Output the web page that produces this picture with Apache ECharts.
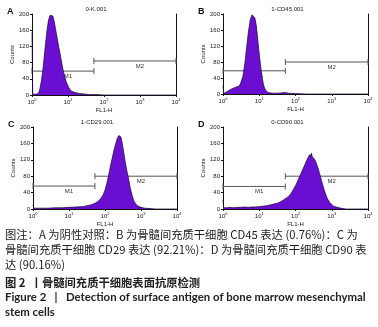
<!DOCTYPE html>
<html>
<head>
<meta charset="utf-8">
<script src="https://cdn.jsdelivr.net/npm/echarts@6/dist/echarts.min.js"></script>
<style>
  html, body { margin: 0; padding: 0; background: #fff; }
  #chart { width: 378px; height: 327px; }
</style>
</head>
<body>
<div id="chart"></div>
<script>
// panel labels
const panelLetters = ['A', 'B', 'C', 'D'];
const panelTitles = ['0-K.001', '1-CD45.001', '1-CD29.001', '0-CD90.001'];

// x in decades (10^n), y in counts
const xDecades = [0, 1, 2, 3, 4];
const yTicks = [0, 40, 80, 120, 160, 200];

// A: negative control
const aExp =    [0, 0.02, 0.10, 0.18, 0.22, 0.26, 0.30, 0.34, 0.38, 0.42, 0.46, 0.50, 0.54, 0.58, 0.62, 0.66, 0.70, 0.74, 0.78, 0.82, 0.86, 0.90, 0.95, 1.00, 1.05, 1.10, 1.20, 1.30, 1.40, 1.50, 1.60, 1.80, 2.00, 4.00];
const aCounts = [155, 2,   2,    4,    15,   35,   60,   95,   130,  162,  185,  197,  200,  195,  180,  160,  140,  120,  102,  82,   63,   48,   33,   22,   14,   9,    6,    4,    3,    2,    1,    1,    0,    0];

// B: CD45
const bExp =    [0, 0.02, 0.08, 0.15, 0.22, 0.30, 0.38, 0.45, 0.50, 0.55, 0.60, 0.65, 0.70, 0.75, 0.80, 0.84, 0.88, 0.92, 0.96, 1.00, 1.04, 1.08, 1.12, 1.17, 1.24, 1.35, 1.50, 1.65, 1.72, 1.80, 2.00, 2.30, 4.00];
const bCounts = [22, 2,    4,    8,    12,   15,   18,   20,   30,   45,   75,   115,  155,  185,  198,  200,  190,  170,  135,  100,  68,   42,   22,   10,   4,    2,    2,    3,    4,    2,    1,    0,    0];

// C: CD29
const cExp =    [0, 0.02, 0.20, 0.40, 0.60, 0.80, 1.00, 1.20, 1.40, 1.50, 1.60, 1.70, 1.80, 1.88, 1.95, 2.00, 2.05, 2.10, 2.15, 2.20, 2.25, 2.30, 2.34, 2.38, 2.41, 2.44, 2.48, 2.52, 2.56, 2.60, 2.65, 2.70, 2.75, 2.80, 2.85, 2.90, 3.00, 3.10, 3.25, 3.40, 4.00];
const cCounts = [10, 2,    2,    2,    3,    3,    4,    5,    6,    8,    10,   13,   18,   25,   35,   46,   62,   82,   104,  124,  144,  160,  172,  179,  182,  176,  160,  138,  116,  96,   76,   52,   34,   20,   13,   8,    4,    2,    1,    0,    0];

// D: CD90
const dExp =    [0, 0.02, 0.10, 0.20, 0.30, 0.40, 0.50, 0.60, 0.70, 0.80, 0.90, 1.00, 1.10, 1.20, 1.30, 1.40, 1.50, 1.60, 1.70, 1.80, 1.87, 1.93, 2.00, 2.05, 2.10, 2.15, 2.20, 2.25, 2.28, 2.31, 2.34, 2.36, 2.38, 2.40, 2.42, 2.44, 2.46, 2.48, 2.50, 2.53, 2.56, 2.59, 2.62, 2.66, 2.70, 2.74, 2.78, 2.82, 2.86, 2.90, 2.95, 3.00, 3.05, 3.10, 3.20, 3.30, 3.40, 4.00];
const dCounts = [22, 3,    3,    4,    3,    4,    4,    5,    4,    5,    5,    6,    7,    8,    10,   12,   14,   18,   24,   30,   37,   46,   57,   66,   77,   86,   97,   106,  113,  119,  122,  128,  124,  133,  127,  136,  128,  131,  124,  121,  115,  108,  100,  88,   75,   62,   50,   39,   29,   22,   15,   11,   7,    5,    3,    1,    0,    0];

const histExp = [aExp, bExp, cExp, dExp];
const histCounts = [aCounts, bCounts, cCounts, dCounts];

// gates: M1 from 10^0 to 10^1.72, M2 from 10^1.72 to 10^4
const gateEdges = [0, 1.72, 4];
const m1Levels = [59, 58, 56, 55];
const m2Levels = [84, 80, 80, 80];

const gridBoxes = [
    { left: 32, top: 14, width: 144, height: 81 },
    { left: 223, top: 14, width: 145, height: 80 },
    { left: 33, top: 127, width: 144, height: 82 },
    { left: 223, top: 127, width: 145, height: 82 }
];

const axisFont = 'Liberation Sans';
const fillColor = '#6a0fd2';

let grid = [], xAxis = [], yAxis = [], series = [], graphic = [];

gridBoxes.forEach((g, i) => {
    grid.push(g);
    xAxis.push({
        gridIndex: i,
        type: 'value',
        min: 0,
        max: 4,
        interval: 1,
        name: 'FL1-H',
        nameLocation: 'middle',
        nameGap: 12,
        nameTextStyle: { fontSize: 6, color: '#222', fontFamily: axisFont },
        axisLine: { lineStyle: { color: '#111', width: 1 } },
        axisTick: { length: 2, lineStyle: { color: '#111' } },
        splitLine: { show: false },
        axisLabel: {
            margin: 3,
            color: '#222',
            fontFamily: axisFont,
            formatter: v => '{b|10}{s|' + v + '}',
            rich: {
                b: { fontSize: 6, color: '#222', fontFamily: axisFont },
                s: { fontSize: 4, color: '#222', fontFamily: axisFont, verticalAlign: 'top', padding: [0, 0, 4, 0] }
            }
        }
    });
    yAxis.push({
        gridIndex: i,
        type: 'value',
        min: 0,
        max: 200,
        interval: 40,
        name: 'Counts',
        nameLocation: 'middle',
        nameGap: 17,
        nameTextStyle: { fontSize: 6, color: '#222', fontFamily: axisFont },
        axisLine: { show: true, lineStyle: { color: '#111', width: 1 } },
        axisTick: { show: true, length: 2, lineStyle: { color: '#111' } },
        splitLine: { show: false },
        axisLabel: { fontSize: 6, margin: 3, color: '#222', fontFamily: axisFont }
    });
    // right border
    yAxis.push({
        gridIndex: i,
        type: 'value',
        position: 'right',
        min: 0,
        max: 200,
        axisLine: { show: true, lineStyle: { color: '#111', width: 1 } },
        axisTick: { show: false },
        axisLabel: { show: false },
        splitLine: { show: false }
    });

    series.push({
        type: 'line',
        xAxisIndex: i,
        yAxisIndex: i * 2,
        data: histExp[i].map((e, k) => [e, histCounts[i][k]]),
        symbol: 'none',
        silent: true,
        animation: false,
        lineStyle: { color: '#1a0033', width: 0.7 },
        areaStyle: { color: fillColor, opacity: 1 }
    });

    series.push({
        type: 'custom',
        xAxisIndex: i,
        yAxisIndex: i * 2,
        animation: false,
        silent: true,
        data: [
            [gateEdges[0], gateEdges[1], m1Levels[i]],
            [gateEdges[1], gateEdges[2], m2Levels[i]]
        ],
        renderItem: (params, api) => {
            const p1 = api.coord([api.value(0), api.value(2)]);
            const p2 = api.coord([api.value(1), api.value(2)]);
            const st = { stroke: '#555', lineWidth: 1 };
            return {
                type: 'group',
                children: [
                    { type: 'line', shape: { x1: p1[0], y1: p1[1], x2: p2[0], y2: p2[1] }, style: st },
                    { type: 'line', shape: { x1: p1[0], y1: p1[1] - 3, x2: p1[0], y2: p1[1] + 3 }, style: st },
                    { type: 'line', shape: { x1: p2[0], y1: p2[1] - 3, x2: p2[0], y2: p2[1] + 3 }, style: st },
                    {
                        type: 'text',
                        style: {
                            text: 'M' + (params.dataIndex + 1),
                            x: (p1[0] + p2[0]) / 2 + 5,
                            y: p1[1] + 2,
                            align: 'center',
                            verticalAlign: 'top',
                            fontSize: 6,
                            fill: '#333',
                            fontFamily: axisFont
                        }
                    }
                ]
            };
        }
    });

    graphic.push({
        type: 'text',
        x: g.left + g.width / 2 - 8,
        y: g.top - 5,
        style: {
            text: panelTitles[i],
            align: 'center',
            verticalAlign: 'middle',
            fontSize: 6,
            fill: '#222',
            fontFamily: axisFont
        }
    });
    graphic.push({
        type: 'text',
        x: g.left - 25,
        y: g.top - 2,
        style: {
            text: panelLetters[i],
            verticalAlign: 'middle',
            fontSize: 9,
            fontWeight: 'bold',
            fill: '#111',
            fontFamily: axisFont
        }
    });
});

// caption
const cjkFont = '"Noto Sans CJK SC", "Noto Sans", sans-serif';
const captionLines = [
    { text: '图注：A 为阴性对照：B 为骨髓间充质干细胞 CD45 表达 (0.76%)：C 为', y: 229, size: 11.3, bold: false, font: cjkFont },
    { text: '骨髓间充质干细胞 CD29 表达 (92.21%)：D 为骨髓间充质干细胞 CD90 表', y: 244, size: 11.3, bold: false, font: cjkFont },
    { text: '达 (90.16%)', y: 259, size: 11.3, bold: false, font: cjkFont },
    { text: '图 2  丨骨髓间充质干细胞表面抗原检测', y: 277, size: 11.3, bold: true, font: cjkFont },
    { text: 'Figure 2   |   Detection of surface antigen of bone marrow mesenchymal', y: 292, size: 11.4, bold: true, font: 'Lato' },
    { text: 'stem cells', y: 307, size: 11.4, bold: true, font: 'Lato' }
];
captionLines.forEach(l => {
    graphic.push({
        type: 'text',
        left: 5,
        top: l.y,
        style: {
            text: l.text,
            fontSize: l.size,
            fontWeight: l.bold ? 'bold' : 'normal',
            fill: '#222',
            fontFamily: l.font
        }
    });
});

const option = {
    backgroundColor: '#fff',
    animation: false,
    grid: grid,
    xAxis: xAxis,
    yAxis: yAxis,
    series: series,
    graphic: graphic
};

const myChart = echarts.init(document.getElementById('chart'));
option && myChart.setOption(option);
</script>
</body>
</html>
